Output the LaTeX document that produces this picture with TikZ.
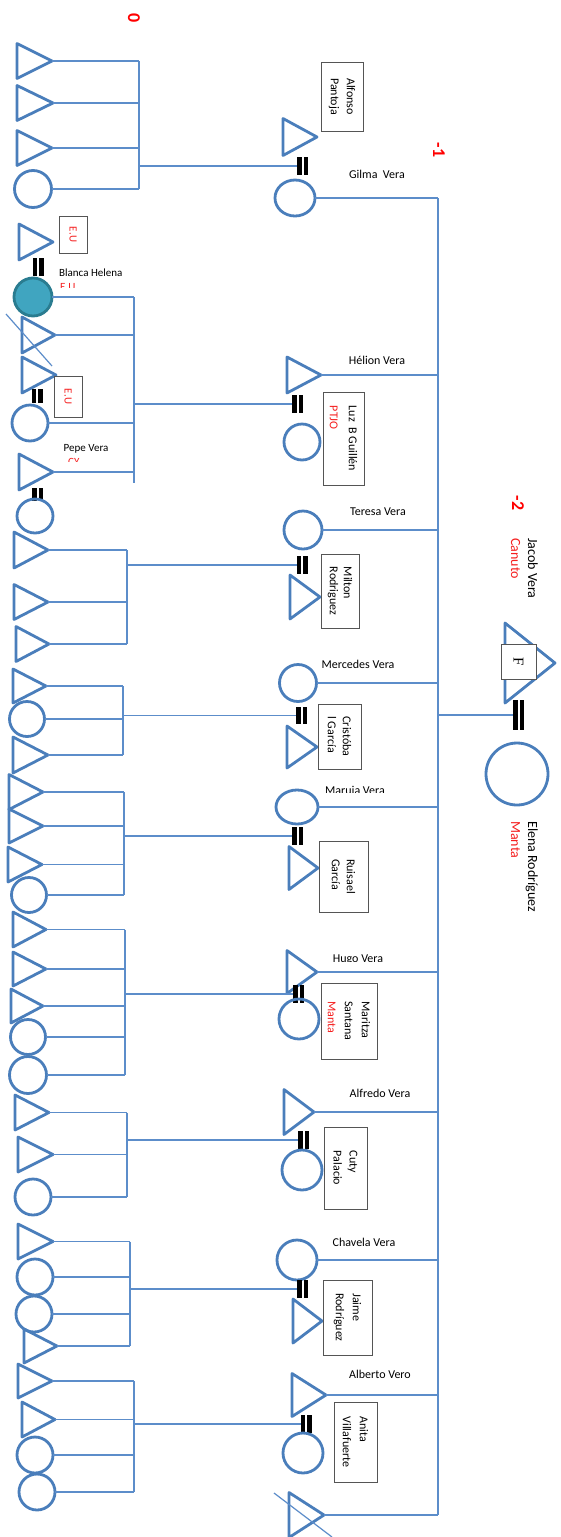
\documentclass[tikz,border=0pt]{standalone}
\usepackage{fontspec}
\setmainfont{Carlito}
\newfontfamily\serifF{Liberation Serif}
\usetikzlibrary{shapes.geometric}
\definecolor{gblue}{RGB}{74,126,187}
\definecolor{lblue}{RGB}{92,141,202}
\definecolor{tealfill}{RGB}{64,165,192}
\definecolor{tealdraw}{RGB}{42,124,144}
\definecolor{boxgray}{RGB}{85,85,85}
\definecolor{txtred}{RGB}{245,30,30}
\newcommand\dblbar[4]{%
  \node[dbar, minimum height=#4] (#1) at (#2,#3) {};
  \fill (#1.south west) rectangle ([xshift=4.5pt]#1.north west);
  \fill ([xshift=-4.5pt]#1.south east) rectangle (#1.north east);}
\tikzset{
  tri/.style 2 args={isosceles triangle, isosceles triangle stretches, draw=gblue, line width=2.8pt,
    inner sep=0pt, outer sep=0pt, minimum width=#1, minimum height=#2, anchor=apex, line join=round},
  circ/.style={circle, draw=gblue, line width=2.8pt, inner sep=0pt, outer sep=0pt, minimum size=#1},
  ell/.style 2 args={ellipse, draw=gblue, line width=2.8pt, inner sep=0pt, outer sep=0pt, minimum width=#1, minimum height=#2},
  conn/.style={draw=lblue, line width=1.2pt},
  dbar/.style={rectangle, inner sep=0pt, outer sep=0pt, minimum width=11pt},
  rbox/.style 2 args={rectangle, draw=boxgray, line width=0.9pt, fill=white, rotate=-90, align=left,
    inner sep=0pt, minimum width=#2, minimum height=#1, font=\fontsize{12}{16}\selectfont},
  eubox/.style={rectangle, draw=boxgray, line width=0.9pt, fill=white, rotate=-90, inner sep=0pt,
    text=txtred, font=\fontsize{11}{12}\selectfont},
  nlabel/.style={anchor=base, inner sep=0pt, font=\fontsize{12}{14}\selectfont},
  slabel/.style={anchor=base, inner sep=0pt, font=\fontsize{11}{13}\selectfont},
  rlabel/.style={rotate=-90, anchor=base west, inner sep=0pt, font=\fontsize{14}{16}\selectfont},
  genlbl/.style={rotate=-90, text=red, font=\fontsize{18}{20}\selectfont\bfseries, inner sep=0pt}
}
\begin{document}
\begin{tikzpicture}[x=1pt,y=-1pt]
\useasboundingbox (0,0) rectangle (560,1537);
\fill[white] (0,0) rectangle (560,1537);

% generation labels
\node[genlbl] (g0) at (134,18) {0};
\node[genlbl] (g1) at (439,150) {-1};
\node[genlbl] (g2) at (518,503) {-2};

% ---------- generation -2
\node[tri={80}{50}] (jac) at (555,663) {};
\node[rectangle, draw=boxgray, fill=white, line width=0.9pt, minimum size=35pt, inner sep=0pt, rotate=-90,
  font=\serifF\fontsize{15}{15}\selectfont] (fbox) at (518.5,661.5) {F};
\dblbar{dbJ}{518.5}{715}{30}
\node[circ=62] (ele) at (517,774) {};
\node[rlabel] (jacn) at (528,538) {Jacob Vera};
\node[rlabel, text=txtred] (jacp) at (511,538) {Canuto};
\node[rlabel] (elen) at (528,821) {Elena Rodríguez};
\node[rlabel, text=txtred] (elep) at (511,821) {Manta};

% ---------- generation -1
\coordinate (vM) at (438,0);
% Gilma
\node[tri={37}{34}] (alf) at (317,137) {};
\node[rbox={42}{69}] (alfb) at (342,96.5) {Alfonso\\Pantoja};
\dblbar{db1}{302.5}{166}{18}
\node[ell={40}{36}] (gil) at (295,198) {};
\node[nlabel] (giln) at (377,178) {Gilma~~Vera};
% Helion
\node[tri={36}{34}] (hel) at (321,375) {};
\node[nlabel] (heln) at (377,364) {Hélion Vera};
\dblbar{db2}{297.5}{404}{18}
\node[circ=36] (luz) at (302,442) {};
\node[rbox={41}{93}, font=\fontsize{12}{19}\selectfont] (luzb) at (343.5,438.5) {Luz~~B Guillén\\\textcolor{txtred}{PTJO}};
% Teresa
\node[circ=38] (ter) at (303,530) {};
\node[nlabel] (tern) at (378,515) {Teresa Vera};
\dblbar{db3}{302}{565}{18}
\node[tri={44}{30}] (mil) at (320,597) {};
\node[rbox={38}{74}, font=\fontsize{12}{14}\selectfont] (milb) at (340,591) {Milton\\Rodriguez};
% Mercedes
\node[circ=37] (mer) at (298,683) {};
\node[nlabel] (mern) at (358,668) {Mercedes Vera};
\dblbar{db4}{301.5}{715.5}{17}
\node[tri={42}{30}] (cri) at (317,747) {};
\node[rbox={43}{65}, font=\fontsize{12}{15}\selectfont] (crib) at (339.5,736.5) {Cristóba\\l García};
% Maruja
\node[ell={42}{34}] (mar) at (297,807) {};
\begin{scope}
  \clip (315,780) rectangle (400,792.5);
  \node[nlabel] (marn) at (355,794) {Maruja Vera};
\end{scope}
\dblbar{db5}{297.5}{836}{18}
\node[tri={43}{29}] (rui) at (318,868) {};
\node[rbox={49}{71}, font=\fontsize{12}{15}\selectfont] (ruib) at (343.5,876.5) {Ruisael\\García};
% Hugo
\node[tri={43}{30}] (hug) at (317,972) {};
\begin{scope}
  \clip (320,945) rectangle (400,961);
  \node[nlabel] (hugn) at (358,962.5) {Hugo Vera};
\end{scope}
\dblbar{db6}{298.5}{994}{18}
\node[circ=40] (mari) at (299,1019) {};
\node[rbox={56}{76}, font=\fontsize{12}{17}\selectfont] (marib) at (349,1021) {Maritza\\Santana\\\textcolor{txtred}{Manta}};
% Alfredo
\node[tri={45}{30}] (alfr) at (314,1112) {};
\node[nlabel] (alfrn) at (380,1097) {Alfredo Vera};
\dblbar{db7}{303.5}{1140}{18}
\node[circ=40] (cut) at (302,1170) {};
\node[rbox={43}{82}] (cutb) at (345.5,1168) {Cuty\\Palacio};
% Chavela
\node[circ=40] (cha) at (297,1260) {};
\node[nlabel] (chan) at (364,1246) {Chavela Vera};
\dblbar{db8}{302.5}{1289}{18}
\node[tri={44}{29}] (jai) at (322,1321) {};
\node[rbox={49}{75}, font=\fontsize{12}{17}\selectfont] (jaib) at (347.5,1317.5) {Jaime\\Rodríguez};
% Alberto
\node[tri={43}{34}] (alb) at (326,1395) {};
\node[nlabel] (albn) at (380,1378) {Alberto Vero};
\dblbar{db9}{306}{1424}{18}
\node[circ=40] (ani) at (303,1453) {};
\node[rbox={43}{80}, font=\fontsize{12}{17}\selectfont] (anib) at (355.5,1442) {Anita\\Villafuerte};
% last
\node[tri={45}{35}] (las) at (324,1515) {};
\draw[conn] (274,1493) -- (332,1537);

% sibling lines gen -1
\foreach \n in {gil,ter,mer,mar,cha} \draw[conn] (\n.east) -- (\n.east -| vM);
\foreach \n in {hel,hug,alfr,alb,las} \draw[conn] (\n.apex) -- (\n.apex -| vM);
\draw[conn] (gil.east -| vM) -- (las.apex -| vM);
\draw[conn] (dbJ.west -| vM) -- (dbJ.west);

% ---------- generation 0
% group A
\node[tri={35}{35}] (a1) at (52,61) {};
\node[tri={35}{36}] (a2) at (53,103) {};
\node[tri={35}{35}] (a3) at (52,148) {};
\node[circ=37] (a4) at (33,189) {};
\coordinate (vA) at (139,0);
\foreach \n in {a1,a2,a3} \draw[conn] (\n.apex) -- (\n.apex -| vA);
\draw[conn] (a4.east) -- (a4.east -| vA);
\draw[conn] (a1.apex -| vA) -- (a4.east -| vA);
\draw[conn] (db1.west -| vA) -- (db1.west);

% group B
\node[tri={36}{34}] (b0) at (53,242) {};
\node[eubox, minimum width=37pt, minimum height=28pt] (eu1) at (73,234.5) {E.U};
\dblbar{bd1}{38}{267}{18}
\node[slabel, anchor=base west] (blan) at (59,276) {Blanca Helena};
\begin{scope}
  \clip (55,279) rectangle (90,287.5);
  \node[slabel, anchor=base west, text=txtred] (blaneu) at (60,290.5) {E.U};
\end{scope}
\node[circ=38, fill=tealfill, draw=tealdraw] (b1) at (33,297) {};
\node[tri={36}{33}] (b2) at (55,335) {};
\draw[conn] (6,314) -- (52,366);
\node[tri={36}{34}] (b3) at (56,375) {};
\node[eubox, minimum width=41pt, minimum height=28pt] (eu2) at (68,396.5) {E.U};
\dblbar{bd2}{37}{396}{14}
\node[circ=36] (b4) at (30,423) {};
\node[slabel] (pepn) at (86,451) {Pepe Vera};
\begin{scope}
  \clip (60,454) rectangle (90,461);
  \node[slabel, anchor=base west, text=txtred] (pepc) at (68,465) {CY};
\end{scope}
\node[tri={36}{34}] (b5) at (53,472) {};
\dblbar{bd3}{37.5}{494.5}{13}
\node[ell={36}{34}] (b6) at (35,516) {};
\coordinate (vB) at (134,0);
\foreach \n in {b1,b4} \draw[conn] (\n.east) -- (\n.east -| vB);
\foreach \n in {b2,b5} \draw[conn] (\n.apex) -- (\n.apex -| vB);
\draw[conn] (b1.east -| vB) -- ([yshift=-11pt]b5.apex -| vB);
\draw[conn] (db2.west -| vB) -- (db2.west);

% group C
\node[tri={36}{34}] (c1) at (48,550) {};
\node[tri={35}{34}] (c2) at (48,602) {};
\node[tri={35}{33}] (c3) at (49,644) {};
\coordinate (vC) at (127,0);
\foreach \n in {c1,c2,c3} \draw[conn] (\n.apex) -- (\n.apex -| vC);
\draw[conn] (c1.apex -| vC) -- (c3.apex -| vC);
\draw[conn] (db3.west -| vC) -- (db3.west);

% group D
\node[tri={34}{33}] (d1) at (46,686) {};
\node[circ=35] (d2) at (27,719) {};
\node[tri={36}{35}] (d3) at (48,755) {};
\coordinate (vD) at (123,0);
\foreach \n in {d1,d3} \draw[conn] (\n.apex) -- (\n.apex -| vD);
\draw[conn] (d2.east) -- (d2.east -| vD);
\draw[conn] (d1.apex -| vD) -- (d3.apex -| vD);
\draw[conn] (db4.west -| vD) -- (db4.west);

% group E
\node[tri={35}{34}] (e1) at (43,792) {};
\node[tri={34}{34}] (e2) at (43,826) {};
\node[tri={35}{34}] (e3) at (42,864.5) {};
\node[circ=35] (e4) at (29,895) {};
\coordinate (vE) at (124,0);
\foreach \n in {e1,e2,e3} \draw[conn] (\n.apex) -- (\n.apex -| vE);
\draw[conn] (e4.east) -- (e4.east -| vE);
\draw[conn] (e1.apex -| vE) -- (e4.east -| vE);
\draw[conn] (db5.west -| vE) -- (db5.west);

% group F
\node[tri={35}{33}] (f1) at (46,929.5) {};
\node[tri={34}{33}] (f2) at (46,969) {};
\node[tri={34}{32}] (f3) at (43,1006) {};
\node[circ=35] (f4) at (28,1037) {};
\node[circ=37] (f5) at (28,1075) {};
\coordinate (vF) at (125,0);
\foreach \n in {f1,f2,f3} \draw[conn] (\n.apex) -- (\n.apex -| vF);
\foreach \n in {f4,f5} \draw[conn] (\n.east) -- (\n.east -| vF);
\draw[conn] (f1.apex -| vF) -- (f5.east -| vF);
\draw[conn] (db6.west -| vF) -- (db6.west);

% group G
\node[tri={35}{34}] (g1) at (49,1112.5) {};
\node[tri={35}{35}] (g2) at (53,1154.5) {};
\node[circ=36] (g3) at (33,1197) {};
\coordinate (vG) at (127,0);
\foreach \n in {g1,g2} \draw[conn] (\n.apex) -- (\n.apex -| vG);
\draw[conn] (g3.east) -- (g3.east -| vG);
\draw[conn] (g1.apex -| vG) -- (g3.east -| vG);
\draw[conn] (db7.west -| vG) -- (db7.west);

% group H
\node[tri={35}{35}] (h1) at (53,1241.5) {};
\node[circ=36] (h2) at (35,1277) {};
\node[circ=36] (h3) at (34,1314) {};
\node[tri={34}{33}] (h4) at (57,1346) {};
\coordinate (vH) at (130,0);
\foreach \n in {h1,h4} \draw[conn] (\n.apex) -- (\n.apex -| vH);
\foreach \n in {h2,h3} \draw[conn] (\n.east) -- (\n.east -| vH);
\draw[conn] (h1.apex -| vH) -- (h4.apex -| vH);
\draw[conn] (db8.west -| vH) -- (db8.west);

% group I
\node[tri={34}{34}] (i1) at (52,1381) {};
\node[tri={35}{33}] (i2) at (55,1419.5) {};
\node[circ=36] (i3) at (35,1455) {};
\node[circ=36] (i4) at (37,1492) {};
\coordinate (vI) at (134,0);
\foreach \n in {i1,i2} \draw[conn] (\n.apex) -- (\n.apex -| vI);
\foreach \n in {i3,i4} \draw[conn] (\n.east) -- (\n.east -| vI);
\draw[conn] (i1.apex -| vI) -- (i4.east -| vI);
\draw[conn] (db9.west -| vI) -- (db9.west);
\end{tikzpicture}
\end{document}
